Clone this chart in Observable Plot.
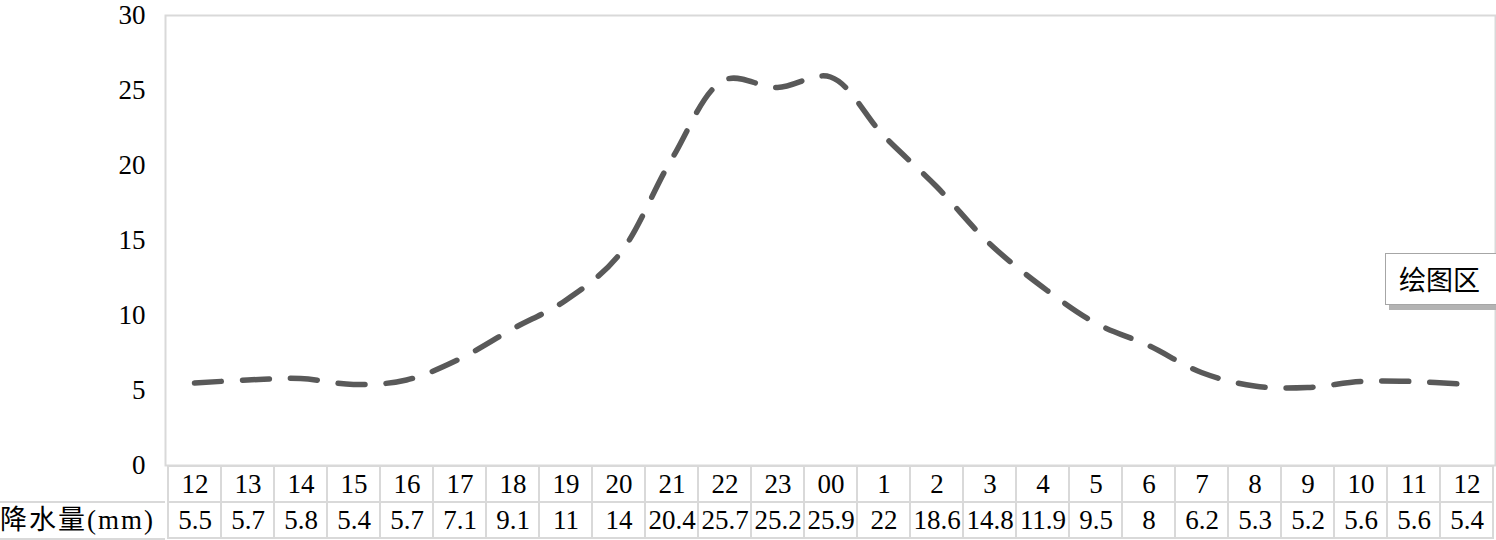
<!DOCTYPE html>
<html><head><meta charset="utf-8">
<script src="https://cdn.jsdelivr.net/npm/d3@7"></script>
<script src="https://cdn.jsdelivr.net/npm/@observablehq/plot@0.6"></script>
<style>
body{margin:0;background:#fff;font-family:"Liberation Serif","Noto Sans CJK SC",serif;}
#wrap{position:relative;width:1496px;height:540px;overflow:hidden;}
#wrap svg{display:block;}
#rowlabel{position:absolute;left:0;top:501px;width:165px;height:35px;border-top:2px solid #d9d9d9;border-bottom:2px solid #d9d9d9;box-sizing:content-box;font-size:27px;letter-spacing:2px;line-height:35px;white-space:nowrap;color:#000;}
#tip{position:absolute;left:1385px;top:253px;width:130px;height:50px;border:1px solid #a6a6a6;background:#fff;box-shadow:4px 5px 0 #b3b3b3;font-family:"Noto Sans CJK SC",sans-serif;font-size:27px;line-height:50px;padding-left:13px;color:#000;}
</style></head><body>
<div id="wrap"></div>
<script>
const hours = ["12","13","14","15","16","17","18","19","20","21","22","23","00","1","2","3","4","5","6","7","8","9","10","11","12"];
const rain = [5.5,5.7,5.8,5.4,5.7,7.1,9.1,11,14,20.4,25.7,25.2,25.9,22,18.6,14.8,11.9,9.5,8,6.2,5.3,5.2,5.6,5.6,5.4];
const yTicks = [0,5,10,15,20,25,30];
const rowLabel = "降水量(mm)";
const tipText = "绘图区";

const keys = hours.map((h, i) => "c" + i);
const data = rain.map((v, i) => ({key: keys[i], v}));
const cells = [];
hours.forEach((h, i) => {
  cells.push({key: keys[i], row: "h", text: h});
  cells.push({key: keys[i], row: "v", text: String(rain[i])});
});
const font = "Liberation Serif, Noto Sans CJK SC, serif";

const main = Plot.plot({
  width: 1496, height: 465,
  marginLeft: 165, marginRight: 1, marginTop: 15, marginBottom: 0,
  style: {fontFamily: font, fontSize: "27px", color: "#000", background: "transparent", overflow: "visible"},
  x: {type: "point", domain: keys, padding: 0.5, axis: null},
  y: {domain: [0, 30], axis: null},
  marks: [
    Plot.frame({stroke: "#d9d9d9", strokeWidth: 2}),
    Plot.axisY({ticks: yTicks, tickSize: 0, tickPadding: 20, fontSize: 27, label: null, fill: "#000"}),
    Plot.line(data, {x: "key", y: "v", curve: "catmull-rom", stroke: "#595959", strokeWidth: 5.5,
      strokeDasharray: "27,21", strokeLinecap: "round"})
  ]
});

const table = Plot.plot({
  width: 1496, height: 75,
  marginLeft: 165, marginRight: 1, marginTop: 1, marginBottom: 2,
  style: {fontFamily: font, fontSize: "27px", color: "#000", background: "transparent"},
  x: {type: "band", domain: keys, padding: 0, axis: null},
  y: {type: "band", domain: ["h", "v"], padding: 0, axis: null},
  marks: [
    Plot.cell(cells, {x: "key", y: "row", fill: "none", stroke: "#d9d9d9", strokeWidth: 2, inset: 0}),
    Plot.text(cells, {x: "key", y: "row", text: "text", fontSize: 27, fill: "#000"})
  ]
});

const wrap = document.getElementById("wrap");
wrap.appendChild(main);
wrap.appendChild(table);
const lab = document.createElement("div");
lab.id = "rowlabel"; lab.textContent = rowLabel;
wrap.appendChild(lab);
const tip = document.createElement("div");
tip.id = "tip"; tip.textContent = tipText;
wrap.appendChild(tip);
</script>
</body></html>
